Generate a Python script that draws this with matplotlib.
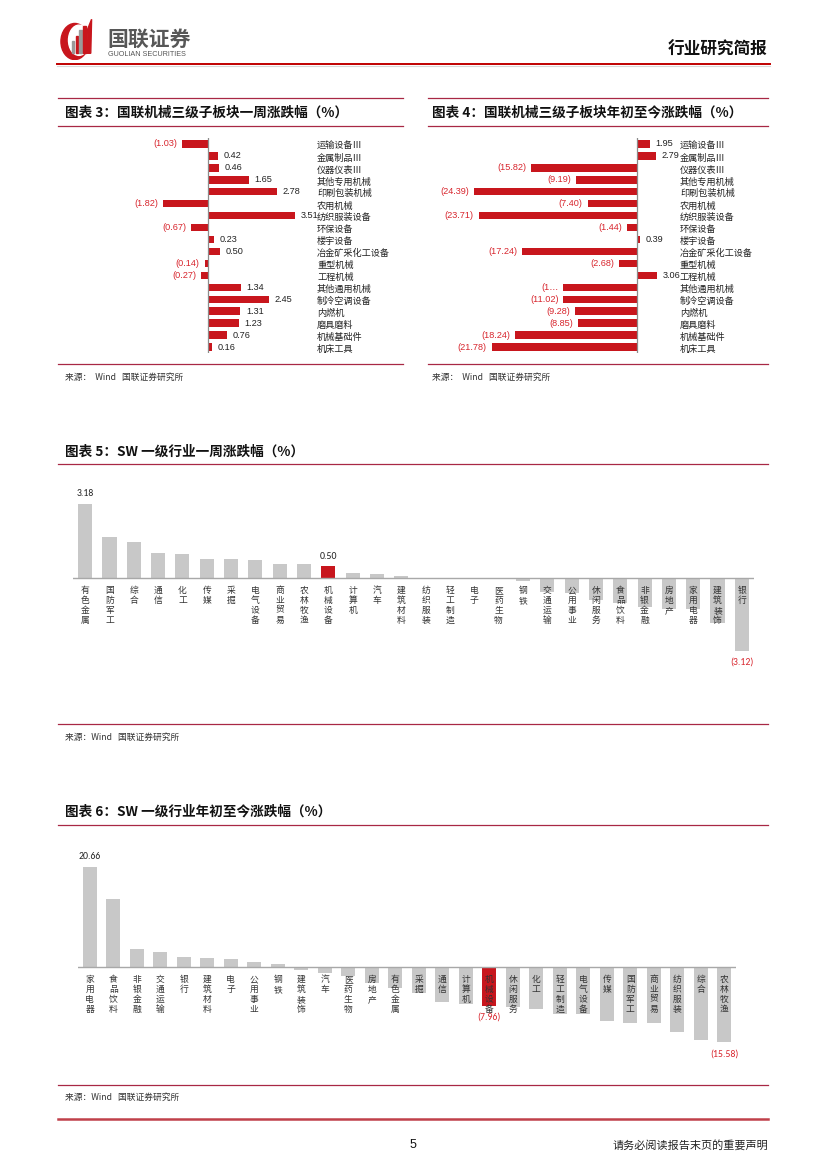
import numpy as np
import matplotlib
matplotlib.use("Agg")
import matplotlib.pyplot as plt
from matplotlib import transforms, font_manager
from matplotlib.lines import Line2D
from matplotlib.patches import Ellipse, Rectangle, Polygon

CJK = "Noto Sans CJK SC"
plt.rcParams["font.family"] = [CJK, "DejaVu Sans"]


def pick_font(candidates):
    names = {f.name for f in font_manager.fontManager.ttflist}
    for c in candidates:
        if c in names:
            return c
    return "DejaVu Sans"


NUM = pick_font(["Liberation Sans", "Arial", "DejaVu Sans"])
NARROW = pick_font(["Carlito", "Liberation Sans Narrow", "Liberation Sans"])

# ---- data: machinery sub-sectors (chart 3 / 4) ----
sub_sectors = ["运输设备Ⅲ", "金属制品Ⅲ", "仪器仪表Ⅲ", "其他专用机械", "印刷包装机械",
               "农用机械", "纺织服装设备", "环保设备", "楼宇设备", "冶金矿采化工设备",
               "重型机械", "工程机械", "其他通用机械", "制冷空调设备", "内燃机",
               "磨具磨料", "机械基础件", "机床工具"]
sub_week = [-1.03, 0.42, 0.46, 1.65, 2.78, -1.82, 3.51, -0.67, 0.23, 0.50,
            -0.14, -0.27, 1.34, 2.45, 1.31, 1.23, 0.76, 0.16]
sub_ytd = [1.95, 2.79, -15.82, -9.19, -24.39, -7.40, -23.71, -1.44, 0.39, -17.24,
           -2.68, 3.06, -11.05, -11.02, -9.28, -8.85, -18.24, -21.78]
ytd_label_override = {"其他通用机械": "(1…"}

# ---- data: SW level-1 industries, weekly (chart 5) ----
sw_week_names = ["有色金属", "国防军工", "综合", "通信", "化工", "传媒", "采掘", "电气设备",
                 "商业贸易", "农林牧渔", "机械设备", "计算机", "汽车", "建筑材料", "纺织服装",
                 "轻工制造", "电子", "医药生物", "钢铁", "交通运输", "公用事业", "休闲服务",
                 "食品饮料", "非银金融", "房地产", "家用电器", "建筑装饰", "银行"]
sw_week = [3.18, 1.76, 1.56, 1.09, 1.05, 0.80, 0.80, 0.76, 0.62, 0.60, 0.50, 0.23,
           0.17, 0.07, 0.01, -0.01, -0.05, -0.06, -0.15, -0.60, -0.63, -0.96, -1.06,
           -1.25, -1.32, -1.35, -1.91, -3.12]

# ---- data: SW level-1 industries, year to date (chart 6) ----
sw_ytd_names = ["家用电器", "食品饮料", "非银金融", "交通运输", "银行", "建筑材料", "电子",
                "公用事业", "钢铁", "建筑装饰", "汽车", "医药生物", "房地产", "有色金属",
                "采掘", "通信", "计算机", "机械设备", "休闲服务", "化工", "轻工制造",
                "电气设备", "传媒", "国防军工", "商业贸易", "纺织服装", "综合", "农林牧渔"]
sw_ytd = [20.66, 14.0, 3.64, 3.09, 1.99, 1.78, 1.58, 0.96, 0.55, -0.62, -1.30, -1.92,
          -3.29, -4.26, -5.35, -7.28, -7.55, -7.96, -8.24, -8.65, -9.61, -9.68, -11.12,
          -11.53, -11.53, -13.52, -15.17, -15.58]
highlight = "机械设备"

RED = "#C8161D"
NEG = "#D8262E"
GRAY = "#C8C8C8"
LINE = "#A82845"
TXT = "#222222"

W, H = 827, 1169
fig = plt.figure(figsize=(W / 100, H / 100), dpi=100)


def fx(x):
    return x / W


def fy(y):
    return 1 - y / H


def add_ax(x0, y0, x1, y1):
    return fig.add_axes([x0 / W, 1 - y1 / H, (x1 - x0) / W, (y1 - y0) / H])


def hline(y, x0, x1, color=LINE, lw=0.9):
    fig.add_artist(Line2D([fx(x0), fx(x1)], [fy(y), fy(y)], color=color, lw=lw))


def ftext(x, y, s, **kw):
    fig.text(fx(x), fy(y), s, **kw)


# ---- header ----
logo = add_ax(58, 18, 100, 60)
logo.set_xlim(0, 1)
logo.set_ylim(0, 1)
logo.axis("off")
logo.add_patch(Ellipse((0.40, 0.44), 0.66, 0.86, color=RED))
logo.add_patch(Ellipse((0.50, 0.47), 0.50, 0.72, color="white"))
for i, (bx, bh) in enumerate([(0.33, 0.30), (0.42, 0.42), (0.51, 0.55), (0.60, 0.66)]):
    logo.add_patch(Rectangle((bx, 0.16), 0.06, bh, color=RED if i % 2 else "#9A9A9A"))
logo.add_patch(Polygon([(0.68, 0.16), (0.78, 0.16), (0.80, 0.97), (0.70, 0.72)], color=RED))
ftext(107, 39, "国联证券", fontsize=15, fontweight="bold", color="#575757", va="center")
ftext(108, 54.5, "GUOLIAN SECURITIES", fontsize=5.2, color="#555555", va="center",
      family=NUM)
ftext(767, 50, "行业研究简报", fontsize=12, fontweight="bold", color="#111111",
      ha="right", va="center")
hline(63.5, 57, 770, color="#C00000", lw=1.4)
hline(65.5, 57, 770, color="#D8D8D8", lw=0.8)


# ---- horizontal bar panels (chart 3 / 4) ----
def hbar_panel(x0, x1, zero_x, scale, values, names, label_x, overrides=None):
    overrides = overrides or {}
    ax = add_ax(x0, 138, x1, 353)
    ax.set_xlim(-(zero_x - x0) / scale, (x1 - zero_x) / scale)
    n = len(values)
    ax.set_ylim(n - 0.5, -0.5)
    pos = np.arange(n)
    ax.barh(pos, values, height=0.62, color=RED)
    ax.axvline(0, color="#8C8C8C", lw=0.9)
    ax.axis("off")
    blend = transforms.blended_transform_factory(fig.transFigure, ax.transData)
    for i, (nm, v) in enumerate(zip(names, values)):
        if v >= 0:
            ax.annotate(f"{v:.2f}", (v, i), xytext=(4, 0), textcoords="offset points",
                        ha="left", va="center", fontsize=6.6, color=TXT, family=NUM)
        else:
            txt = overrides.get(nm, f"({abs(v):.2f})")
            ax.annotate(txt, (v, i), xytext=(-3.5, 0), textcoords="offset points",
                        ha="right", va="center", fontsize=6.6, color=NEG, family=NUM)
        ax.text(fx(label_x), i + 0.18, nm, transform=blend, ha="left", va="center",
                fontsize=6.6, color=TXT)
    return ax


for (lx0, lx1, title, vals, zx, sc, lab_x, ov, tx) in [
        (58, 403, "图表 3：国联机械三级子板块一周涨跌幅（%）", sub_week, 208, 24.8, 317, None, 65),
        (428, 768, "图表 4：国联机械三级子板块年初至今涨跌幅（%）", sub_ytd, 637, 6.68, 680,
         ytd_label_override, 432)]:
    hline(98, lx0, lx1)
    ftext(tx, 113, title, fontsize=9.8, fontweight="bold", color="#111111", va="center")
    hline(126, lx0, lx1)
    hline(364, lx0, lx1)
    ftext(tx, 377, "来源：  Wind   国联证券研究所", fontsize=6.3, color="#333333",
          va="center")
    hbar_panel(zx - 100 if zx < 300 else zx - 200, lab_x, zx, sc, vals, sub_sectors,
               lab_x, ov)


# ---- vertical bar panels (chart 5 / 6) ----
def vbar_panel(x0, x1, y_top, y_bot, base_y, scale, names, values, label_top):
    ax = add_ax(x0, y_top, x1, y_bot)
    n = len(values)
    ax.set_xlim(-0.5, n - 0.5)
    ax.set_ylim(-(y_bot - base_y) / scale, (base_y - y_top) / scale)
    pos = np.arange(n)
    colors = [RED if nm == highlight else GRAY for nm in names]
    ax.bar(pos, values, width=0.58, color=colors)
    ax.axhline(0, color="#A8A8A8", lw=1.0)
    ax.axis("off")
    ly = -(label_top - base_y) / scale
    for i, nm in enumerate(names):
        ax.text(i, ly, "\n".join(nm), ha="center", va="top", fontsize=6.3,
                linespacing=1.12, color="#333333")
    vmax, vmin = int(np.argmax(values)), int(np.argmin(values))
    hl = names.index(highlight)
    for i in sorted({vmax, vmin, hl}):
        v = values[i]
        if v >= 0:
            ax.annotate(f"{v:.2f}", (i, v), xytext=(0, 4), textcoords="offset points",
                        ha="center", va="bottom", fontsize=7, color=TXT, family=NARROW)
        else:
            ax.annotate(f"({abs(v):.2f})", (i, v), xytext=(0, -5), textcoords="offset points",
                        ha="center", va="top", fontsize=7, color=NEG, family=NARROW)
    return ax


ftext(65, 452, "图表 5：SW 一级行业一周涨跌幅（%）", fontsize=9.8, fontweight="bold",
      color="#111111", va="center")
hline(464, 58, 768)
vbar_panel(73, 754, 480, 700, 578, 23.3, sw_week_names, sw_week, 586)
hline(724, 58, 768)
ftext(65, 737, "来源：Wind   国联证券研究所", fontsize=6.3, color="#333333", va="center")

ftext(65, 812, "图表 6：SW 一级行业年初至今涨跌幅（%）", fontsize=9.8, fontweight="bold",
      color="#111111", va="center")
hline(825, 58, 768)
vbar_panel(78, 736, 840, 1075, 967, 4.84, sw_ytd_names, sw_ytd, 975)
hline(1085, 58, 768)
ftext(65, 1097, "来源：Wind   国联证券研究所", fontsize=6.3, color="#333333", va="center")

# ---- footer ----
hline(1119, 58, 768, color="#C0404A", lw=1.8)
ftext(413, 1145, "5", fontsize=9, color="#111111", ha="center", va="center", family=NUM)
ftext(768, 1145, "请务必阅读报告末页的重要声明", fontsize=8, color="#222222",
      ha="right", va="center")

fig.savefig("out.png", dpi=100, facecolor="white")
